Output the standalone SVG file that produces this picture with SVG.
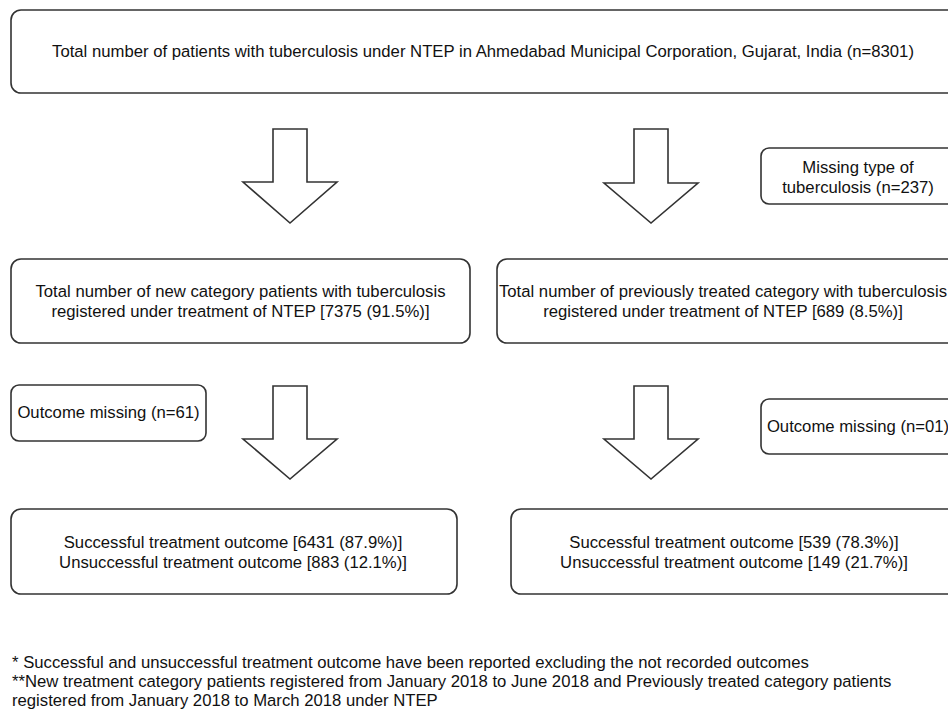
<svg xmlns="http://www.w3.org/2000/svg" width="948" height="713" viewBox="0 0 948 713">
<style>
.box{fill:#fff;stroke:#333;stroke-width:1.6}
.arr{fill:#fff;stroke:#333;stroke-width:1.6;stroke-linejoin:miter}
text{font-family:"Liberation Sans",Arial,sans-serif;font-size:16.7px;fill:#111}
.c{text-anchor:middle}
</style>
<rect width="948" height="713" fill="#fff"/>
<g id="total">
<rect class="box" x="11" y="10" width="946" height="83" rx="10"/>
<text class="c" x="483" y="57">Total number of patients with tuberculosis under NTEP in Ahmedabad Municipal Corporation, Gujarat, India (n=8301)</text>
</g>
<g id="missing-type">
<rect class="box" x="761" y="148" width="196" height="56" rx="8"/>
<text class="c" x="858" y="173">Missing type of</text>
<text class="c" x="858" y="193">tuberculosis (n=237)</text>
</g>
<g id="new-category">
<rect class="box" x="11" y="259" width="459" height="84" rx="10"/>
<text class="c" x="240.5" y="297">Total number of new category patients with tuberculosis</text>
<text class="c" x="240.5" y="317">registered under treatment of NTEP [7375 (91.5%)]</text>
</g>
<g id="previously-treated">
<rect class="box" x="497" y="259" width="460" height="84" rx="10"/>
<text class="c" x="723" y="297">Total number of previously treated category with tuberculosis</text>
<text class="c" x="723" y="317">registered under treatment of NTEP [689 (8.5%)]</text>
</g>
<g id="missing-new">
<rect class="box" x="11" y="385" width="195" height="56" rx="8"/>
<text class="c" x="108.5" y="418">Outcome missing (n=61)</text>
</g>
<g id="missing-prev">
<rect class="box" x="761" y="399" width="196" height="55" rx="8"/>
<text class="c" x="858" y="432">Outcome missing (n=01)</text>
</g>
<g id="outcome-new">
<rect class="box" x="11" y="509" width="446" height="85" rx="10"/>
<text class="c" x="233" y="548">Successful treatment outcome [6431 (87.9%)]</text>
<text class="c" x="233" y="568">Unsuccessful treatment outcome [883 (12.1%)]</text>
</g>
<g id="outcome-prev">
<rect class="box" x="511" y="509" width="446" height="85" rx="10"/>
<text class="c" x="734" y="548">Successful treatment outcome [539 (78.3%)]</text>
<text class="c" x="734" y="568">Unsuccessful treatment outcome [149 (21.7%)]</text>
</g>
<g id="connectors">
<polygon class="arr" points="273,129 307,129 307,182 337,182 290,223 243,182 273,182"/>
<polygon class="arr" points="634,129 668,129 668,183 698,183 651,223 604,183 634,183"/>
<polygon class="arr" points="273,386 307,386 307,439 337,439 290,479 243,439 273,439"/>
<polygon class="arr" points="634,386 668,386 668,439 698,439 651,479 604,439 634,439"/>
</g>
<g id="footnotes">
<text x="12" y="668">* Successful and unsuccessful treatment outcome have been reported excluding the not recorded outcomes</text>
<text x="12" y="687">**New treatment category patients registered from January 2018 to June 2018 and Previously treated category patients</text>
<text x="12" y="706">registered from January 2018 to March 2018 under NTEP</text>
</g>
</svg>
